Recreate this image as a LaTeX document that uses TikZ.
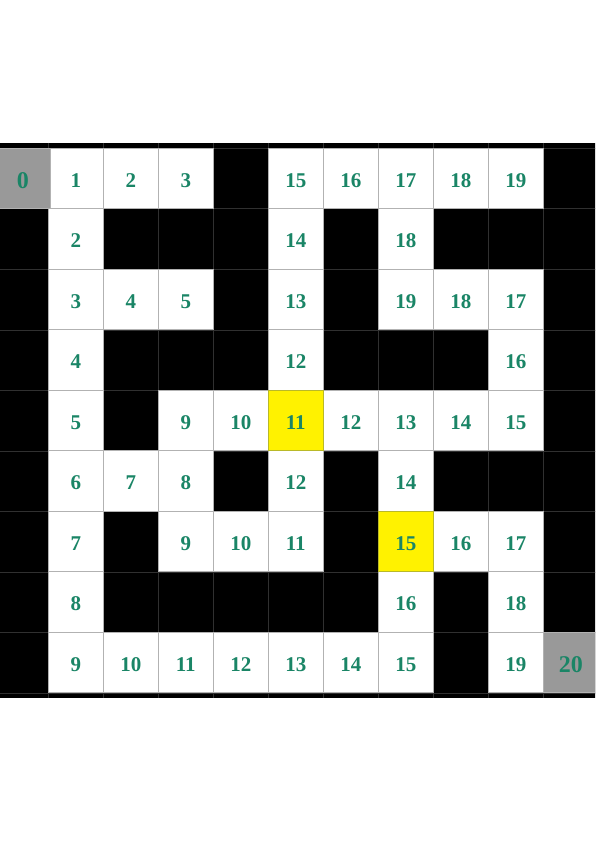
\documentclass[tikz,border=0pt]{standalone}
\usepackage{fontspec}
\setmainfont{Liberation Serif}
\definecolor{numgreen}{RGB}{26,133,102}
\definecolor{cellline}{RGB}{178,178,178}
\definecolor{wallline}{RGB}{48,48,48}
\definecolor{endgray}{RGB}{153,153,153}
\definecolor{yellowline}{RGB}{185,185,40}
\newcommand{\lbl}[1]{\raisebox{-1.8pt}[\height][\depth]{#1}}
\begin{document}
\begin{tikzpicture}[x=1pt,y=-1pt,
  opencell/.style={draw=cellline, line width=0.8pt, fill=white, minimum width=55pt, minimum height=60.5pt, inner sep=0pt, outer sep=0pt, font=\fontsize{21}{21}\selectfont\bfseries, text=numgreen},
  endcell/.style={opencell, fill=endgray, font=\fontsize{24}{24}\selectfont\bfseries},
  goalcell/.style={opencell, fill=yellow, draw=yellowline},
  wall/.style={wallline, line width=0.6pt}]
\useasboundingbox (0,0) rectangle (595,842);
\begin{scope}
\clip (0,0) rectangle (595,842);
\fill[black] (-10,143) rectangle (605,698);
\foreach \i in {0,...,11} \draw[wall] ({-6.7+55*\i},143) -- ({-6.7+55*\i},698);
\foreach \j in {0,...,9} \draw[wall] (-10,{148.3+60.5*\j}) -- (605,{148.3+60.5*\j});
\foreach \r/\c/\t in {
  0/1/1, 0/2/2, 0/3/3, 0/5/15, 0/6/16, 0/7/17, 0/8/18, 0/9/19,
  1/1/2, 1/5/14, 1/7/18,
  2/1/3, 2/2/4, 2/3/5, 2/5/13, 2/7/19, 2/8/18, 2/9/17,
  3/1/4, 3/5/12, 3/9/16,
  4/1/5, 4/3/9, 4/4/10, 4/6/12, 4/7/13, 4/8/14, 4/9/15,
  5/1/6, 5/2/7, 5/3/8, 5/5/12, 5/7/14,
  6/1/7, 6/3/9, 6/4/10, 6/5/11, 6/8/16, 6/9/17,
  7/1/8, 7/7/16, 7/9/18,
  8/1/9, 8/2/10, 8/3/11, 8/4/12, 8/5/13, 8/6/14, 8/7/15, 8/9/19}
  \node[opencell] (n\r-\c) at ({20.8+55*\c},{178.55+60.5*\r}) {\lbl{\t}};
\node[goalcell] (n4-5) at ({20.8+55*5},{178.55+60.5*4}) {\lbl{11}};
\node[goalcell] (n6-7) at ({20.8+55*7},{178.55+60.5*6}) {\lbl{15}};
\node[endcell] (n0-0) at ({20.8+55*0+2},{178.55+60.5*0}) {\lbl{0}};
\node[endcell] (n8-10) at ({20.8+55*10},{178.55+60.5*8}) {\lbl{20}};
\end{scope}
\end{tikzpicture}
\end{document}
